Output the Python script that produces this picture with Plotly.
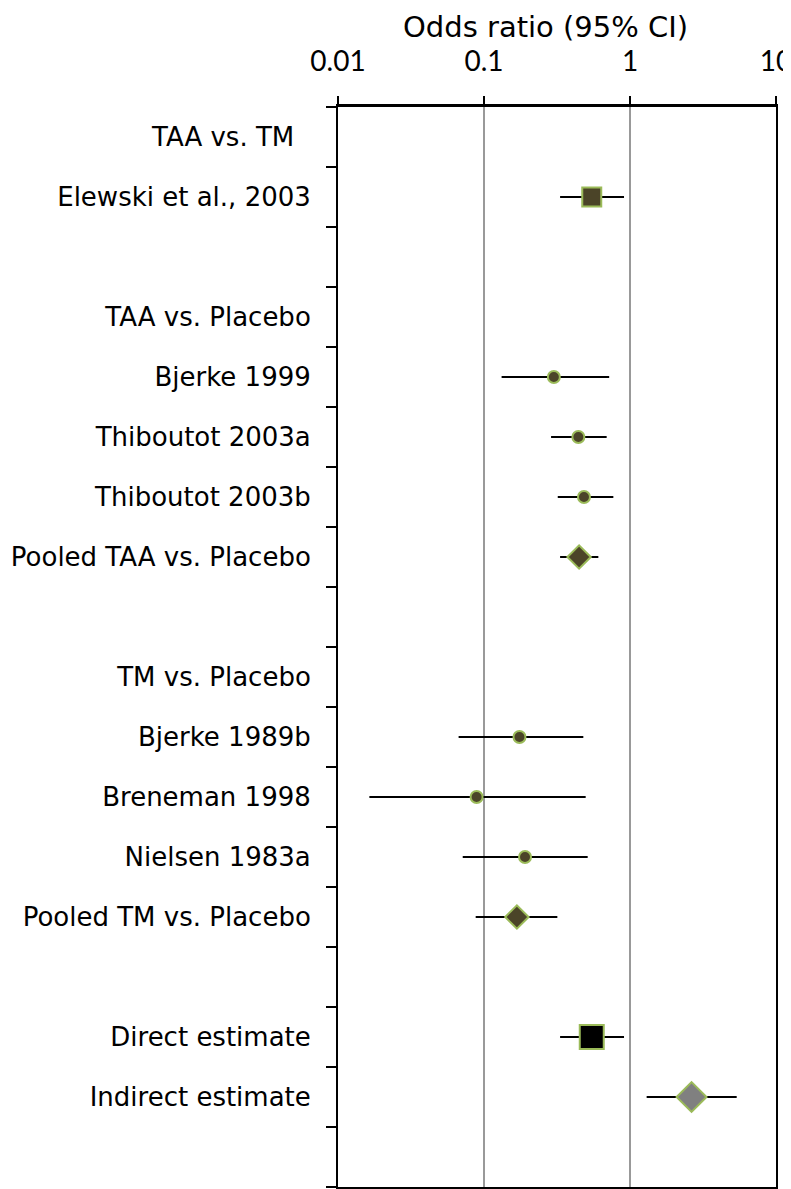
import plotly.graph_objects as go

# rows from top to bottom; blank strings are spacer rows
labels = [
    "TAA vs. TM\u00a0\u00a0", "Elewski et al., 2003", "",
    "TAA vs. Placebo", "Bjerke 1999", "Thiboutot 2003a", "Thiboutot 2003b",
    "Pooled TAA vs. Placebo", "",
    "TM vs. Placebo", "Bjerke 1989b", "Breneman 1998", "Nielsen 1983a",
    "Pooled TM vs. Placebo", "",
    "Direct estimate", "Indirect estimate", "",
]

# odds ratios with 95% CI (None = no estimate on that row)
odds = [None, 0.547, None, None, 0.301, 0.443, 0.484, 0.448, None,
        None, 0.175, 0.089, 0.191, 0.168, None, 0.547, 2.64, None]
ci_low = [None, 0.332, None, None, 0.132, 0.288, 0.320, 0.332, None,
          None, 0.067, 0.0164, 0.0715, 0.0877, None, 0.332, 1.30, None]
ci_high = [None, 0.91, None, None, 0.72, 0.692, 0.769, 0.607, None,
           None, 0.479, 0.497, 0.513, 0.318, None, 0.91, 5.38, None]
kind = [None, "trial_sq", None, None, "trial", "trial", "trial", "pooled", None,
        None, "trial", "trial", "trial", "pooled", None, "direct", "indirect", None]

styles = {
    "trial":    dict(symbol="circle", size=12, color="#4b4428"),
    "trial_sq": dict(symbol="square", size=19, color="#4b4428"),
    "pooled":   dict(symbol="diamond", size=18, color="#4b4428"),
    "direct":   dict(symbol="square", size=24, color="#000000"),
    "indirect": dict(symbol="diamond", size=23, color="#808080"),
}

n = len(labels)
centers = [i + 0.5 for i in range(n)]

xs, ys, lo, hi, sym, sz, col = [], [], [], [], [], [], []
for i in range(n):
    if odds[i] is None:
        continue
    st = styles[kind[i]]
    xs.append(odds[i])
    ys.append(centers[i])
    lo.append(odds[i] - ci_low[i])
    hi.append(ci_high[i] - odds[i])
    sym.append(st["symbol"])
    sz.append(st["size"])
    col.append(st["color"])

fig = go.Figure()
fig.add_trace(go.Scatter(
    x=xs, y=ys, mode="markers",
    marker=dict(symbol=sym, size=sz, color=col, opacity=1,
                line=dict(color="#9bbb59", width=2)),
    error_x=dict(type="data", array=hi, arrayminus=lo, symmetric=False,
                 color="black", thickness=2, width=0),
    hoverinfo="x+y",
    showlegend=False,
))

# title sits a little left of the plot centre, as in the original
fig.add_annotation(text="Odds ratio (95% CI)", xref="paper", yref="paper",
                   x=0.473, y=1, xanchor="center", yanchor="middle",
                   yshift=80, showarrow=False,
                   font=dict(size=29, family="DejaVu Sans"))

# the page body has an 8px margin, so the figure is offset by 8px
fig.update_layout(
    width=800, height=1189,
    margin=dict(l=330, r=32, t=99, b=10),
    paper_bgcolor="white", plot_bgcolor="white",
    font=dict(family="DejaVu Sans", color="black"),
    xaxis=dict(
        type="log", range=[-2, 1], side="top", automargin=False,
        tickvals=[0.01, 0.1, 1, 10], ticktext=["0.01", "0.1", "1", "10"],
        ticks="outside", ticklen=8, tickwidth=2, tickcolor="black",
        ticklabelstandoff=14,
        tickfont=dict(size=28, family="Lato"),
        showline=True, linewidth=3, linecolor="black", mirror=True,
        showgrid=True, gridcolor="#999999", gridwidth=2, zeroline=False,
    ),
    yaxis=dict(
        range=[n, 0], automargin=False,
        tickvals=centers, ticktext=labels, ticks="",
        ticklabelstandoff=20,
        tickfont=dict(size=26),
        minor=dict(tickvals=list(range(n + 1)), ticks="outside", ticklen=10,
                   tickwidth=2, tickcolor="black", showgrid=False),
        showline=True, linewidth=2, linecolor="black", mirror=True,
        showgrid=False, zeroline=False,
    ),
)

fig.write_html("out.html")
